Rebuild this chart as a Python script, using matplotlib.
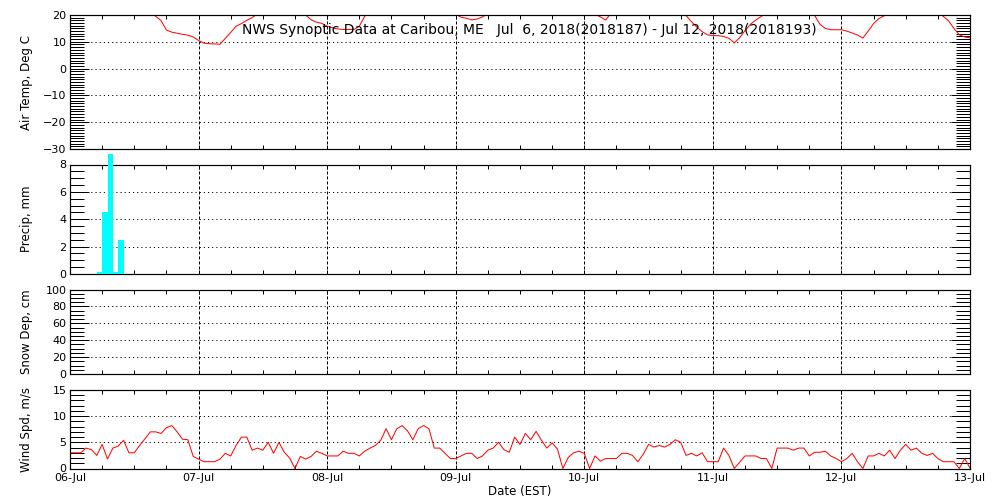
import numpy as np
import matplotlib
matplotlib.use("Agg")
import matplotlib.pyplot as plt
from matplotlib.ticker import MultipleLocator, FixedLocator

# --- Datos (horas desde 06-Jul 00:00 EST) ---
hours = np.arange(0, 169)

air_temp = [
    23.0, 22.5, 22.0, 21.5, 21.5, 21.0, 21.0, 21.0, 21.5, 22.0, 23.0, 23.5, 23.0, 22.5, 22.0,
    21.0, 19.5, 17.9, 14.4, 13.6, 13.2, 12.8, 12.5, 11.8, 10.5, 9.5, 9.3, 9.2, 9.1, 11.3,
    13.5, 15.8, 16.8, 18.0, 19.0, 20.5,
    22.0, 23.5, 24.5, 25.0, 24.5, 23.5, 22.5,
    21.0, 20.0, 18.2, 17.3, 16.9, 15.8, 15.2, 14.8, 14.6, 14.6, 14.6, 15.8, 19.5,
    22.0, 24.0, 25.5, 27.0, 28.0, 29.0, 29.5, 30.0, 29.5, 28.5, 27.0, 25.5, 24.0, 23.0, 22.0, 21.0,
    20.2, 19.2, 18.8, 18.2, 18.5, 19.3, 20.5,
    22.5, 24.5, 26.0, 27.5, 28.5, 29.5, 30.0, 30.5, 30.0, 29.0, 27.5, 26.0, 24.5, 23.5, 22.5,
    22.0, 21.5, 21.0, 20.8, 20.3,
    19.3, 18.1, 20.8,
    23.0, 25.0, 27.0, 28.5, 29.5, 30.5, 31.0, 30.5, 29.5, 27.5, 25.5, 23.0,
    21.0, 19.8, 17.5, 15.5, 13.8, 12.6, 12.3, 12.3, 12.0, 11.3, 9.6, 11.5, 14.2, 16.5, 18.1,
    19.4, 21.0,
    22.5, 23.5, 24.5, 25.0, 24.5, 23.5, 22.5,
    21.5, 19.8, 16.5, 15.0, 14.5, 14.5, 14.5, 14.0, 13.3, 12.5, 11.4, 14.0, 16.8, 18.7, 19.7,
    21.0,
    22.5, 24.0, 25.0, 25.5, 25.0, 24.0, 23.0, 22.0,
    21.0, 19.5, 17.8, 15.0, 12.6, 11.8, 11.5,
]

precip_hours = [5, 6, 7, 8, 9]
precip_mm = [0.15, 4.5, 8.8, 0.15, 2.5]

wind_spd = [
    3.0, 3.0, 3.0, 3.9, 3.6, 2.5, 4.6, 1.8, 3.9, 4.3, 5.4, 3.0, 3.0, 4.4, 5.7, 7.0, 7.0, 6.7,
    7.8, 8.2, 7.0, 5.6, 5.5, 2.3, 1.8, 1.3, 1.3, 1.3, 1.8, 2.9, 2.4, 4.4, 6.0, 6.0, 3.5, 3.9,
    3.5, 5.0, 2.9, 5.0, 3.1, 2.0, 0.0, 2.3, 1.8, 2.3, 3.3, 2.9, 2.4, 2.4, 2.4, 3.3, 2.9, 2.9,
    2.4, 3.3, 3.9, 4.4, 5.4, 7.6, 5.5, 7.6, 8.2, 7.2, 5.5, 7.6, 8.2, 7.6, 3.9, 3.9, 2.9, 1.9,
    1.9, 2.4, 2.9, 2.9, 1.9, 2.4, 3.5, 3.9, 5.0, 3.6, 3.1, 6.0, 4.6, 6.7, 5.5, 7.1, 5.4, 3.9,
    4.9, 3.7, 0.0, 2.1, 3.0, 3.3, 2.9, 0.0, 2.4, 1.4, 1.9, 1.9, 1.9, 2.9, 2.9, 2.5, 1.3, 2.7,
    4.6, 4.1, 4.4, 4.1, 4.6, 5.5, 5.0, 2.5, 2.9, 2.4, 3.0, 1.3, 1.3, 1.3, 3.9, 2.5, 0.0, 1.2,
    2.4, 2.4, 2.4, 1.9, 1.9, 0.0, 3.9, 3.9, 3.9, 3.5, 3.9, 3.9, 2.4, 3.1, 3.1, 3.3, 2.4, 1.9,
    1.3, 1.9, 2.9, 1.3, 0.0, 2.4, 2.4, 2.9, 2.4, 3.5, 1.9, 3.5, 4.6, 3.5, 3.9, 2.9, 2.5, 2.9,
    1.9, 1.3, 1.3, 1.3, 0.0, 1.9, 0.1,
]

day_labels = ["06-Jul", "07-Jul", "08-Jul", "09-Jul", "10-Jul", "11-Jul", "12-Jul", "13-Jul"]
titulo = "NWS Synoptic Data at Caribou, ME   Jul  6, 2018(2018187) - Jul 12, 2018(2018193)"

assert len(air_temp) == len(hours) and len(wind_spd) == len(hours)

plt.rcParams["font.family"] = "DejaVu Sans"
plt.rcParams["lines.scale_dashes"] = False

PX = 0.72  # 1 pixel en puntos
fig = plt.figure(figsize=(10, 5), dpi=100)

# rectangulos [izq, abajo, ancho, alto] en fraccion de figura
paneles = [
    [0.07, 0.702, 0.90, 0.268],
    [0.07, 0.452, 0.90, 0.219],
    [0.07, 0.252, 0.90, 0.169],
    [0.07, 0.063, 0.90, 0.157],
]
axs = [fig.add_axes(r) for r in paneles]


def estilo(ax, ylim, mayor, menor, etiqueta):
    ax.set_xlim(0, 168)
    ax.set_ylim(*ylim)
    ax.xaxis.set_major_locator(MultipleLocator(24))
    ax.xaxis.set_minor_locator(MultipleLocator(6))
    ax.yaxis.set_major_locator(MultipleLocator(mayor))
    ax.yaxis.set_minor_locator(MultipleLocator(menor))
    ax.tick_params(axis="y", which="major", direction="in", length=19 * PX, width=PX,
                   left=True, right=True, labelsize=8, pad=2.5)
    ax.tick_params(axis="y", which="minor", direction="in", length=14 * PX, width=PX,
                   left=True, right=True)
    ax.tick_params(axis="x", which="both", direction="in", length=4 * PX, width=PX,
                   top=True, bottom=True, labelbottom=False, labelsize=8, pad=3)
    ax.grid(axis="x", which="major", color="black", linewidth=PX, linestyle=(0, (2.2, 1.4)))
    ax.grid(axis="y", which="major", color="black", linewidth=PX, linestyle=(0, (0.8, 2.2)))
    for s in ax.spines.values():
        s.set_linewidth(PX * 1.2)
    ax.set_ylabel(etiqueta, fontsize=8.5)
    ax.yaxis.set_label_coords(-0.041, 0.5)


# Temperatura
ax = axs[0]
estilo(ax, (-30, 20), 10, 1, "Air Temp, Deg C")
ax.plot(hours, air_temp, color="red", linewidth=PX)
ax.text(0.51, 0.885, titulo, transform=ax.transAxes, ha="center", va="center", fontsize=10)

# Precipitacion
ax = axs[1]
estilo(ax, (0, 8), 2, 0.5, "Precip, mm")
ax.bar(precip_hours, precip_mm, width=1.05, align="edge", color="cyan",
       linewidth=0, clip_on=False, zorder=3)

# Nieve
ax = axs[2]
estilo(ax, (0, 100), 20, 5, "Snow Dep, cm")

# Viento
ax = axs[3]
estilo(ax, (0, 15), 5, 1, "Wind Spd, m/s")
ax.plot(hours, wind_spd, color="red", linewidth=PX)
ax.xaxis.set_major_locator(FixedLocator(np.arange(0, 169, 24)))
ax.set_xticklabels(day_labels)
ax.tick_params(axis="x", labelbottom=True)
ax.set_xlabel("Date (EST)", fontsize=8.5, labelpad=2)

plt.savefig("out.png", dpi=100)
plt.close()
